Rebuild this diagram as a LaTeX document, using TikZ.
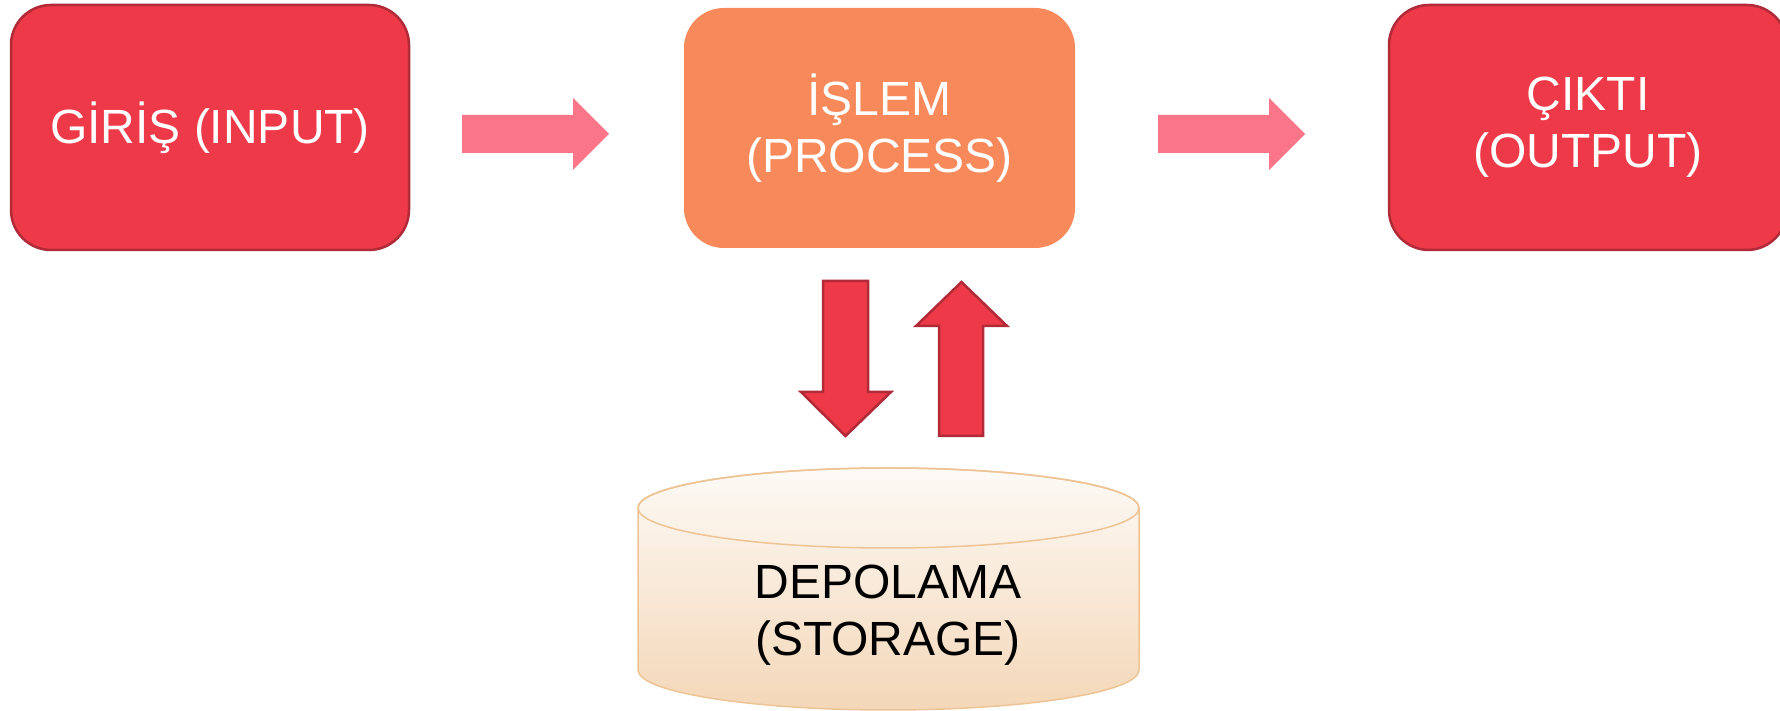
\documentclass[tikz,border=0pt]{standalone}
\usepackage{fontspec}
\setmainfont{Liberation Sans}
\definecolor{boxRed}{HTML}{EE3A48}
\definecolor{boxBorder}{HTML}{B02A37}
\definecolor{procOrange}{HTML}{F8895A}
\definecolor{arrowPink}{HTML}{FA7588}
\definecolor{cylTop}{HTML}{FDFAF6}
\definecolor{cylBot}{HTML}{F4D7B8}
\definecolor{cylBorder}{HTML}{EEC495}
\begin{document}
\begin{tikzpicture}[x=1pt,y=1pt,
  boxbase/.style={rectangle, rounded corners=40pt, align=center, text=white,
    font=\fontsize{48}{57}\selectfont, inner sep=0pt},
  redbox/.style={boxbase, fill=boxRed, draw=boxBorder, line width=2.5pt,
    minimum width=398pt, minimum height=245pt},
  procbox/.style={boxbase, fill=procOrange, minimum width=391pt, minimum height=240pt},
  flatarrow/.style={fill=arrowPink},
  redarrow/.style={fill=boxRed, draw=boxBorder, line width=2.5pt, line join=miter},
  cylstyle/.style={top color=cylTop, bottom color=cylBot, draw=cylBorder, line width=1.5pt},
  labeltext/.style={align=center, text=black, font=\fontsize{48}{57}\selectfont, inner sep=0pt}
]
\clip (0,0) rectangle (1780,711);
\fill[white] (0,0) rectangle (1780,711);

% boxes
\node[redbox] (input) at (210,583.5) {GİRİŞ (INPUT)};
\node[procbox] (process) at (879.5,583) {İŞLEM\\(PROCESS)};
\node[redbox] (output) at (1588,583.5) {ÇIKTI\\(OUTPUT)};

% horizontal block arrows
\coordinate (a1) at (462,577);
\fill[flatarrow] (a1) ++(0,19) -- ++(111,0) -- ++(0,17) -- (609,577) -- (573,541) -- ++(0,17) -- (462,558) -- cycle;
\coordinate (a2) at (1158,577);
\fill[flatarrow] (a2) ++(0,19) -- ++(111,0) -- ++(0,17) -- (1305,577) -- (1269,541) -- ++(0,17) -- (1158,558) -- cycle;

% vertical block arrows
\coordinate (down) at (845.5,430);
\draw[redarrow] (823,430) -- (868,430) -- (868,319) -- (891,319) -- (845.5,275) -- (801,319) -- (823,319) -- cycle;
\coordinate (up) at (961,429);
\draw[redarrow] (939,275) -- (983,275) -- (983,385) -- (1007,385) -- (961.5,429) -- (916,385) -- (939,385) -- cycle;

% storage cylinder
\path[cylstyle] (638,203) -- (638,41) arc[start angle=180,end angle=360,x radius=250.5,y radius=40]
  -- (1139,203) arc[start angle=0,end angle=180,x radius=250.5,y radius=40] -- cycle;
\draw[cylBorder, line width=1.5pt] (888.5,203) ellipse[x radius=250.5, y radius=40];
\node[labeltext] (storage) at (888,96) {DEPOLAMA\\(STORAGE)};
\end{tikzpicture}
\end{document}
